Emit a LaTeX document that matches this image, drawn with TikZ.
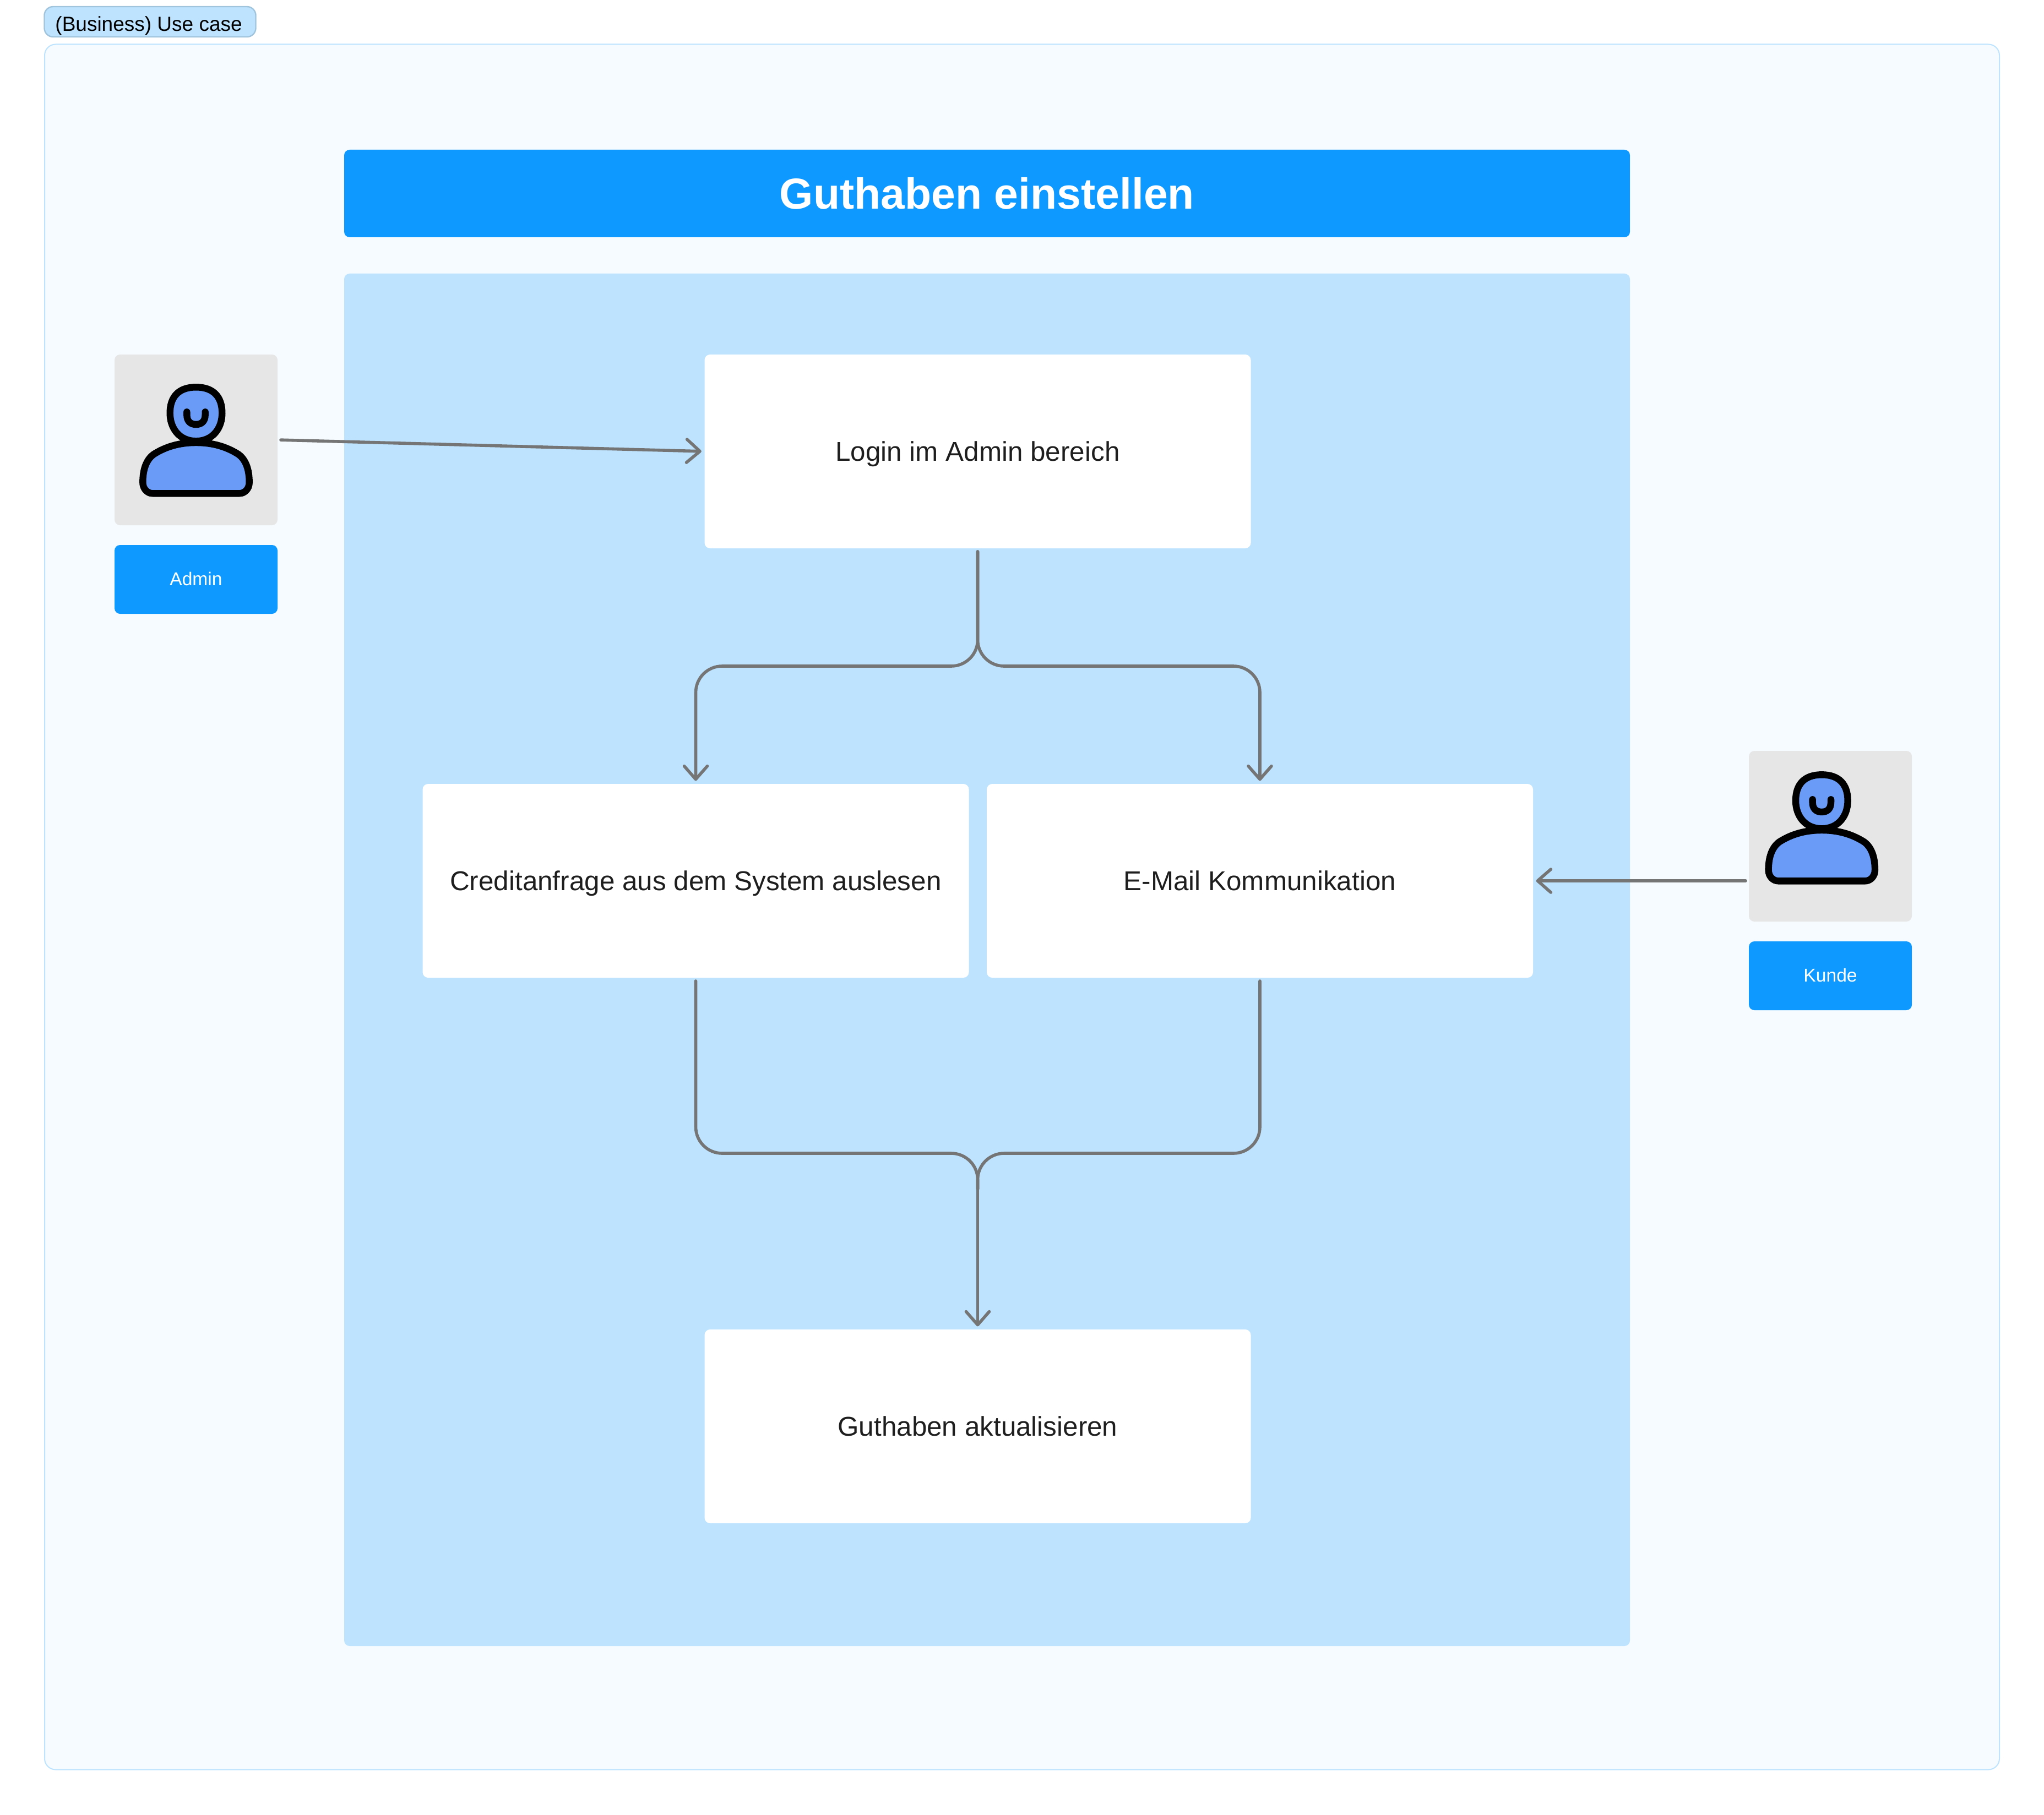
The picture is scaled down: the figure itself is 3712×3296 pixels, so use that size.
\documentclass[tikz,border=0pt]{standalone}
\usepackage{fontspec}
\setmainfont{Liberation Sans}
\usetikzlibrary{arrows.meta,calc}
\definecolor{outerfill}{HTML}{F5FBFF}
\definecolor{panelblue}{HTML}{BDE3FF}
\definecolor{tagedge}{HTML}{A0C4DC}
\definecolor{strongblue}{HTML}{0D99FF}
\definecolor{actorgrey}{HTML}{E6E6E6}
\definecolor{linegrey}{HTML}{757575}
\definecolor{inkdark}{HTML}{1E1E1E}
\definecolor{personblue}{HTML}{699BF7}
\tikzset{
  x=0.25pt,y=-0.25pt,
  plate/.style={inner sep=0pt,outer sep=0pt,rounded corners=2.5pt,text depth=0pt,align=center},
  stepbox/.style={plate,fill=white,text=inkdark,minimum height=88pt,text height=8.6pt,font=\fontsize{12.35pt}{15pt}\selectfont},
  wide/.style={minimum width=248pt},
  actorbox/.style={plate,fill=actorgrey,minimum width=74pt,minimum height=77.5pt},
  actorlabel/.style={plate,fill=strongblue,text=white,minimum width=74pt,minimum height=31.25pt,text height=5.6pt,font=\fontsize{8.4pt}{10pt}\selectfont},
  conn/.style={draw=linegrey,line width=1.4pt,line cap=round,rounded corners=12pt,shorten <=1.5pt,shorten >=1.4pt,-{Straight Barb[length=6pt,width=10.5pt,line width=1.4pt,round]}},
  conntail/.style={draw=linegrey,line width=1.4pt,line cap=round,rounded corners=12pt,shorten <=1.5pt},
  personline/.style={draw=black,line width=3.1pt,line join=round,line cap=round},
}
\newcommand{\personicon}[2]{%
  \begin{scope}[shift={(#1,#2)}]
    \path[personline,fill=personblue] (0,-50) .. controls (32,-50) and (47.3,-32) .. (47.3,-3)
      .. controls (47.3,25) and (30,48) .. (0,48)
      .. controls (-30,48) and (-47.3,25) .. (-47.3,-3)
      .. controls (-47.3,-32) and (-32,-50) .. (0,-50) -- cycle;
    \path[personline,fill=personblue] (0,50.7) .. controls (30,50.7) and (55,58) .. (77,72)
      .. controls (92,83) and (96.7,103) .. (96.7,123)
      .. controls (96.7,135) and (88,143) .. (79,143) -- (-79,143)
      .. controls (-88,143) and (-96.7,135) .. (-96.7,123)
      .. controls (-96.7,103) and (-92,83) .. (-77,72)
      .. controls (-55,58) and (-30,50.7) .. (0,50.7) -- cycle;
    \path[personline] (-16.7,-5) -- (-16.7,0) .. controls (-16.7,12) and (-10,17.7) .. (0,17.7)
      .. controls (10,17.7) and (16.7,12) .. (16.7,0) -- (16.7,-5);
  \end{scope}}
\begin{document}
\begin{tikzpicture}
  \useasboundingbox (0,0) rectangle (3712,3296);
  \fill[white] (0,0) rectangle (3712,3296);
  % frame and its tag
  \node[plate,draw=panelblue,line width=0.5pt,fill=outerfill,minimum width=887.5pt,minimum height=783.5pt,rounded corners=5pt] (frame) at (1856,1647.5) {};
  \node[plate,draw=tagedge,line width=0.6pt,fill=panelblue,minimum width=96pt,minimum height=13.75pt,rounded corners=4pt,text=black,text height=8.5pt,font=\fontsize{9.25pt}{12pt}\selectfont] (tag) at (272.5,39.5) {(Business) Use case\hspace*{1.2pt}};
  % title and panel
  \node[plate,fill=strongblue,text=white,minimum width=583.75pt,minimum height=39.75pt,text height=14.2pt,font=\fontsize{19.7pt}{24pt}\bfseries\selectfont] (title) at (1792.5,351.5) {Guthaben einstellen};
  \node[plate,fill=panelblue,minimum width=583.75pt,minimum height=623.25pt] (panel) at (1792.5,1743.5) {};
  % steps
  \node[stepbox,wide] (login) at (1775.5,820) {Login im Admin bereich};
  \node[stepbox,wide] (credit) at (1263.5,1600) {Creditanfrage aus dem System auslesen};
  \node[stepbox,wide] (email) at (2288,1600) {E-Mail Kommunikation};
  \node[stepbox,wide] (update) at (1775.5,2591) {Guthaben aktualisieren};
  % actors
  \node[actorbox] (admin) at (356,799) {};
  \node[actorlabel] (adminlabel) at (356,1052.5) {Admin};
  \node[actorbox] (kunde) at (3324,1519) {};
  \node[actorlabel] (kundelabel) at (3324,1772.5) {Kunde};
  \personicon{356}{753.3}
  \personicon{3308.3}{1457.3}
  % junctions
  \coordinate (fork) at (1775.5,1210);
  \coordinate (merge) at (1775.5,2095);
  \coordinate (mergeout) at (1775.5,2160);
  % connectors
  \draw[conn] (admin.east) -- (login.west);
  \draw[conn] (login.south) -- (login.south |- fork) -- (credit.north |- fork) -- (credit.north);
  \draw[conn] (login.south) -- (login.south |- fork) -- (email.north |- fork) -- (email.north);
  \draw[conn] (kunde.west |- email.east) -- (email.east);
  \draw[conntail] (credit.south) -- (credit.south |- merge) -- (merge) -- (mergeout);
  \draw[conntail] (email.south) -- (email.south |- merge) -- (merge) -- (mergeout);
  \draw[conn,shorten <=0pt,rounded corners=0pt] (mergeout) -- (update.north);
\end{tikzpicture}
\end{document}
